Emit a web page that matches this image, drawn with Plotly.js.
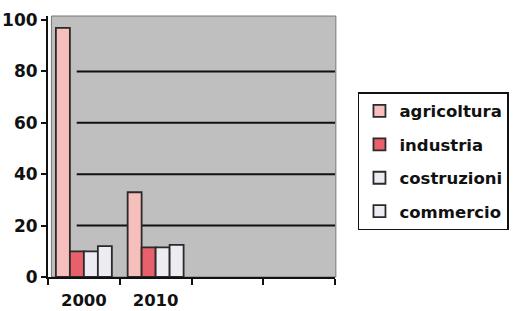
<!DOCTYPE html>
<html><head><meta charset="utf-8">
<script src="https://cdn.plot.ly/plotly-3.0.1.min.js"></script>
<style>html,body{margin:0;padding:0;background:#fff;}#c{width:515px;height:311px;}</style>
</head><body><div id="c"></div>
<script>
const categories = ["2000", "2010", "a", "b"];
const tickLabels = ["2000", "2010", "", ""];
const yTicks = [0, 20, 40, 60, 80, 100];
const agricoltura = [97, 33, null, null];
const industria = [10, 11.5, null, null];
const costruzioni = [10, 11.5, null, null];
const commercio = [12, 12.5, null, null];
const seriesNames = ["agricoltura", "industria", "costruzioni", "commercio"];
const seriesValues = [agricoltura, industria, costruzioni, commercio];
const colors = ["#f7bfbb", "#e8606c", "#ececf2", "#ececf2"];
const gridVals = [20, 40, 60, 80];

const traces = seriesValues.map((v, i) => ({
  type: "bar", x: categories, y: v, name: seriesNames[i],
  legendgroup: "g" + i,
  marker: {color: colors[i], line: {color: "#2a2a2a", width: 1.8}},
  hoverinfo: "none"
}));

const shapes = [{type: "rect", xref: "paper", yref: "paper", x0: 0.012, x1: 1.003, y0: 0, y1: 1.0,
  fillcolor: "#bfbfbf", line: {color: "#777", width: 1}, layer: "below"}];
gridVals.forEach(g => shapes.push({
  type: "line", xref: "paper", yref: "y", x0: 0.1, x1: 1, y0: g, y1: g,
  line: {color: "#111", width: 2}, layer: "below"
}));

const boldFont = "DejaVu Sans";

Plotly.newPlot("c", traces, {
  width: 515, height: 311,
  margin: {l: 48, r: 180, t: 16, b: 34, autoexpand: false},
  paper_bgcolor: "#ffffff", plot_bgcolor: "rgba(0,0,0,0)",
  font: {family: boldFont, color: "#111"},
  barmode: "group", bargap: 0.22, bargroupgap: 0,
  showlegend: true,
  legend: {x: 1.08, xanchor: "left", y: 0.444, yanchor: "middle",
    bordercolor: "#111", borderwidth: 1.5, bgcolor: "#fff",
    font: {size: 16.5, family: boldFont, weight: 700},
    tracegroupgap: 9, traceorder: "grouped"},
  xaxis: {type: "category", tickvals: categories, ticktext: tickLabels,
    tickson: "boundaries", ticks: "outside", ticklen: 6, tickwidth: 2, tickcolor: "#111",
    showline: true, linecolor: "#111", linewidth: 2, ticklabelstandoff: 7,
    tickfont: {size: 16.5, family: boldFont, weight: 700}, showgrid: false, fixedrange: true},
  yaxis: {range: [0, 101.6], tickvals: yTicks,
    ticks: "outside", ticklen: 5, tickwidth: 2, tickcolor: "#111",
    showline: true, linecolor: "#111", linewidth: 2, showgrid: false, zeroline: false,
    tickfont: {size: 17, family: boldFont, weight: 700}, fixedrange: true},
  shapes: shapes
}, {staticPlot: true});
</script></body></html>
